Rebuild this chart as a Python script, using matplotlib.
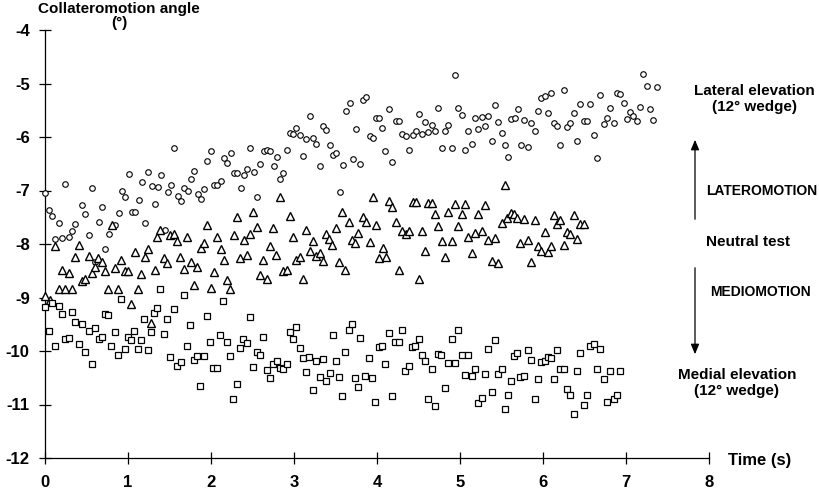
import matplotlib
matplotlib.use("Agg")
import matplotlib.pyplot as plt

plt.rcParams['font.family'] = ['Liberation Sans', 'DejaVu Sans']
plt.rcParams['font.weight'] = 'bold'

# Lateral elevation (circles)
lat_t = [0.00, 0.045, 0.08, 0.12, 0.17, 0.20, 0.245, 0.285, 0.325, 0.365, 0.446, 0.486, 0.526, 0.566,
         0.606, 0.646, 0.687, 0.727, 0.767, 0.847, 0.887, 0.928, 0.968, 1.008, 1.048, 1.088, 1.128,
         1.165, 1.205, 1.241, 1.285, 1.32, 1.36, 1.40, 1.44, 1.48, 1.52, 1.56, 1.60, 1.64, 1.68, 1.72,
         1.76, 1.80, 1.84, 1.876, 1.916, 1.955, 1.996, 2.036, 2.076, 2.117, 2.157, 2.196, 2.237, 2.277,
         2.317, 2.357, 2.394, 2.434, 2.474, 2.514, 2.554, 2.594, 2.635, 2.675, 2.714, 2.755, 2.795,
         2.83, 2.87, 2.91, 2.95, 2.99, 3.03, 3.07, 3.11, 3.15, 3.19, 3.23, 3.27, 3.31, 3.35, 3.39,
         3.43, 3.47, 3.51, 3.55, 3.59, 3.63, 3.67, 3.71, 3.75, 3.79, 3.83, 3.87, 3.91, 3.95, 3.99,
         4.03, 4.06, 4.10, 4.14, 4.18, 4.23, 4.27, 4.30, 4.35, 4.39, 4.43, 4.47, 4.51, 4.54, 4.58,
         4.62, 4.66, 4.70, 4.74, 4.78, 4.82, 4.86, 4.90, 4.94, 4.98, 5.02, 5.06, 5.10, 5.14, 5.18,
         5.22, 5.26, 5.30, 5.34, 5.38, 5.42, 5.46, 5.50, 5.54, 5.58, 5.62, 5.66, 5.70, 5.73, 5.77,
         5.82, 5.86, 5.90, 5.94, 5.98, 6.02, 6.06, 6.10, 6.13, 6.17, 6.21, 6.25, 6.29, 6.33, 6.37,
         6.41, 6.45, 6.49, 6.53, 6.57, 6.61, 6.65, 6.69, 6.73, 6.77, 6.81, 6.85, 6.89, 6.93, 6.97,
         7.01, 7.05, 7.09, 7.13, 7.17, 7.20, 7.25, 7.29, 7.32, 7.37]
lat_v = [-7.04, -7.36, -7.48, -7.91, -7.60, -7.88, -6.88, -7.86, -7.76, -7.63, -7.28, -7.43, -7.83, -6.95,
         -8.34, -7.59, -7.31, -8.09, -7.81, -7.64, -7.42, -7.00, -7.12, -6.69, -7.40, -7.40, -7.18,
         -6.85, -7.60, -6.66, -6.91, -7.26, -6.94, -6.71, -7.74, -7.03, -6.90, -6.20, -7.11, -7.20, -6.96, -7.00,
         -6.78, -6.63, -7.07, -7.16, -6.98, -6.44, -6.26, -6.90, -6.89, -6.82, -6.39, -6.49, -6.30, -6.68,
         -6.68, -6.95, -6.71, -6.59, -6.21, -6.66, -7.12, -6.50, -6.26, -6.24, -6.26, -6.55, -6.38,
         -6.78, -6.67, -6.24, -5.93, -5.95, -5.83, -5.97, -6.36, -6.04, -5.60, -6.01, -6.13, -6.55, -5.80, -5.86,
         -6.15, -6.33, -6.30, -7.02, -6.52, -5.51, -5.36, -6.41, -5.85, -6.51, -5.31, -5.25, -5.98, -6.01, -5.65,
         -5.64, -5.83, -6.26, -5.47, -6.46, -5.71, -5.70, -5.95, -5.98, -6.25, -5.97, -5.89, -5.57, -5.95, -5.72,
         -5.90, -5.78, -5.88, -5.45, -6.20, -5.89, -5.77, -6.20, -4.85, -5.46, -5.59, -6.24, -5.88, -6.13, -5.64,
         -5.85, -5.63, -5.80, -5.61, -6.07, -5.41, -5.72, -5.93, -6.15, -6.38, -5.67, -5.64, -5.47, -6.15, -5.69,
         -6.19, -5.74, -5.89, -5.51, -5.28, -5.24, -5.55, -5.18, -5.73, -5.79, -6.15, -5.13, -5.81, -5.74, -5.55,
         -6.08, -5.39, -5.71, -5.70, -5.39, -5.97, -6.39, -5.21, -5.75, -5.65, -5.46, -5.74, -5.17, -5.19, -5.36,
         -5.67, -5.53, -5.61, -5.70, -5.44, -4.83, -5.04, -5.48, -5.68, -5.07]

# Neutral test (triangles)
neu_t = [0.00, 0.06, 0.12, 0.165, 0.205, 0.245, 0.285, 0.32, 0.365, 0.405, 0.446, 0.486, 0.526, 0.562,
         0.60, 0.642, 0.683, 0.723, 0.763, 0.81, 0.84, 0.88, 0.92, 0.96, 1.00, 1.04, 1.08, 1.12, 1.16,
         1.20, 1.24, 1.28, 1.32, 1.35, 1.39, 1.43, 1.47, 1.51, 1.55, 1.59, 1.63, 1.67, 1.71, 1.755,
         1.795, 1.835, 1.876, 1.916, 1.955, 1.996, 2.036, 2.076, 2.117, 2.153, 2.193, 2.233, 2.273,
         2.313, 2.353, 2.394, 2.434, 2.474, 2.51, 2.55, 2.59, 2.63, 2.67, 2.71, 2.747, 2.787, 2.83,
         2.87, 2.91, 2.95, 2.99, 3.03, 3.07, 3.11, 3.15, 3.19, 3.23, 3.27, 3.31, 3.35, 3.38, 3.42,
         3.46, 3.50, 3.54, 3.58, 3.62, 3.66, 3.70, 3.74, 3.77, 3.83, 3.87, 3.91, 3.95, 3.99, 4.03,
         4.07, 4.11, 4.14, 4.18, 4.23, 4.27, 4.30, 4.35, 4.39, 4.43, 4.47, 4.50, 4.54, 4.58, 4.62,
         4.66, 4.70, 4.74, 4.78, 4.82, 4.86, 4.90, 4.94, 4.98, 5.02, 5.06, 5.10, 5.14, 5.18, 5.22,
         5.26, 5.30, 5.34, 5.38, 5.42, 5.46, 5.50, 5.54, 5.57, 5.61, 5.65, 5.69, 5.72, 5.77, 5.82,
         5.86, 5.90, 5.94, 5.98, 6.02, 6.06, 6.10, 6.13, 6.17, 6.21, 6.25, 6.29, 6.33, 6.37, 6.41,
         6.45, 6.49]
neu_v = [-8.98, -9.04, -8.04, -8.84, -8.49, -8.84, -8.55, -8.84, -8.24, -8.02, -8.70, -8.66, -8.23, -8.54,
         -8.43, -8.26, -8.34, -8.51, -8.84, -7.65, -8.45, -8.84, -8.29, -8.51, -8.50, -9.12, -8.15, -8.84, -8.56,
         -8.24, -8.09, -9.47, -8.48, -7.86, -7.73, -8.27, -8.35, -7.84, -7.82, -7.94, -8.25, -8.46, -7.87, -8.33,
         -8.76, -8.43, -8.08, -7.99, -7.64, -8.82, -8.53, -7.86, -8.10, -8.29, -8.67, -8.85, -7.84,
         -7.49, -8.27, -7.92, -8.20, -7.81, -7.40, -7.69, -8.58, -8.29, -8.65, -8.03, -7.71, -8.20, -7.12,
         -8.50, -8.48, -7.48, -7.87, -8.29, -8.24, -8.65, -7.74, -8.14, -7.94, -8.22, -8.16, -8.32, -7.82, -7.91,
         -8.02, -7.71, -8.33, -7.41, -8.49, -7.58, -7.92, -7.98, -7.79, -7.50, -7.59, -7.97, -7.12, -7.65, -8.27,
         -8.07, -8.24, -7.19, -7.31, -7.58, -8.49, -7.76, -7.81, -7.76, -7.21, -7.21, -8.65, -7.76, -8.14, -7.24,
         -7.24, -7.44, -7.66, -7.94, -8.25, -7.41, -7.94, -7.25, -7.66, -7.44, -7.25, -7.86, -8.17, -7.79, -7.44,
         -7.76, -7.28, -7.92, -8.32, -7.89, -8.35, -7.61, -6.89, -7.51, -7.42, -7.44, -7.51, -7.99, -7.54, -7.92,
         -8.33, -7.56, -8.03, -8.14, -7.77, -8.15, -8.03, -7.45, -7.63, -7.55, -8.02, -7.78, -7.81, -7.45, -7.91,
         -7.63, -7.63]

# Medial elevation (squares)
med_t = [0.00, 0.045, 0.08, 0.12, 0.165, 0.20, 0.245, 0.285, 0.325, 0.365, 0.405, 0.446, 0.486, 0.526,
         0.566, 0.606, 0.646, 0.683, 0.72, 0.76, 0.80, 0.84, 0.88, 0.92, 0.96, 0.996, 1.036, 1.076,
         1.117, 1.157, 1.197, 1.237, 1.277, 1.317, 1.353, 1.39, 1.43, 1.47, 1.51, 1.55, 1.59, 1.635,
         1.67, 1.71, 1.75, 1.79, 1.83, 1.87, 1.91, 1.95, 1.99, 2.03, 2.07, 2.11, 2.15, 2.19, 2.23,
         2.27, 2.31, 2.35, 2.39, 2.43, 2.47, 2.51, 2.55, 2.59, 2.63, 2.67, 2.71, 2.75, 2.79, 2.83,
         2.87, 2.91, 2.95, 2.99, 3.03, 3.07, 3.11, 3.15, 3.18, 3.23, 3.27, 3.31, 3.35, 3.39, 3.43,
         3.47, 3.50, 3.54, 3.58, 3.62, 3.66, 3.70, 3.74, 3.77, 3.80, 3.86, 3.90, 3.94, 3.98, 4.02,
         4.06, 4.10, 4.14, 4.18, 4.22, 4.26, 4.30, 4.34, 4.38, 4.42, 4.46, 4.50, 4.54, 4.58, 4.62,
         4.66, 4.70, 4.74, 4.77, 4.82, 4.86, 4.90, 4.94, 4.98, 5.02, 5.06, 5.10, 5.14, 5.18, 5.22,
         5.26, 5.30, 5.34, 5.38, 5.42, 5.46, 5.50, 5.54, 5.58, 5.62, 5.65, 5.69, 5.72, 5.77, 5.82,
         5.86, 5.90, 5.94, 5.98, 6.02, 6.06, 6.10, 6.13, 6.17, 6.21, 6.25, 6.29, 6.33, 6.37, 6.41,
         6.45, 6.49, 6.53, 6.57, 6.61, 6.65, 6.69, 6.73, 6.77, 6.81, 6.85, 6.89, 6.93]
med_v = [-9.17, -9.63, -9.10, -9.91, -9.15, -9.30, -9.78, -9.75, -9.27, -9.46, -9.86, -9.49, -10.02, -9.62,
         -10.24, -9.57, -9.78, -9.73, -9.30, -9.32, -9.90, -9.65, -10.08, -9.02, -9.97, -9.73, -9.80, -9.62,
         -9.96, -9.79, -9.41, -9.99, -9.64, -9.29, -9.19, -8.84, -9.69, -9.40, -10.12, -9.21, -10.28, -10.20,
         -8.96, -9.91, -9.52, -10.17, -10.09, -10.66, -10.09, -9.34, -9.83, -10.32, -10.31, -9.71, -9.06, -9.84, -10.09,
         -10.90, -10.61, -9.94, -9.77, -9.85, -9.37, -10.29, -10.01, -10.08, -9.73, -10.35, -10.51, -10.24, -10.18, -10.32,
         -10.34, -10.24, -9.65, -9.78, -9.56, -9.95, -10.14, -10.39, -10.11, -10.72, -10.18, -10.48, -10.15, -10.56, -10.42,
         -9.70, -10.19, -10.49, -10.85, -10.01, -9.60, -9.50, -10.51, -10.67, -9.75, -10.46, -10.13, -10.50, -10.96, -9.92,
         -9.91, -10.24, -9.67, -10.84, -9.84, -9.83, -9.60, -10.37, -10.28, -9.93, -9.90, -9.78, -10.07, -10.19, -10.90,
         -10.34, -11.03, -10.05, -10.07, -10.69, -10.22, -9.77, -10.23, -9.61, -10.08, -10.44, -10.07, -10.47, -10.33, -10.97,
         -10.87, -10.43, -9.96, -10.77, -9.79, -10.43, -10.33, -11.09, -10.83, -10.57, -10.09, -10.04, -10.48, -10.47, -9.98,
         -10.16, -10.89, -10.53, -10.20, -10.19, -10.11, -10.13, -10.53, -9.99, -10.33, -10.34, -10.71, -10.83, -11.17, -10.37,
         -10.04, -11.01, -10.83, -9.90, -9.86, -10.33, -9.97, -10.52, -10.95, -10.37, -10.89, -10.82, -10.37]

x_ticks = [0, 1, 2, 3, 4, 5, 6, 7, 8]
y_ticks = [-12, -11, -10, -9, -8, -7, -6, -5, -4]

W, H = 819, 493
fig = plt.figure(figsize=(W / 100, H / 100), dpi=100)
ax = fig.add_axes([45 / W, 1 - 458 / H, (709 - 45) / W, (458 - 30) / H])

common = dict(linestyle='none', markerfacecolor='white', markeredgecolor='black', clip_on=False, zorder=3)
ax.plot(lat_t, lat_v, marker='o', markersize=4.0, markeredgewidth=0.8, **common)
ax.plot(neu_t, neu_v, marker='^', markersize=5.5, markeredgewidth=1.0, **common)
ax.plot(med_t, med_v, marker='s', markersize=4.6, markeredgewidth=0.9, **common)

ax.set_xlim(0, 8)
ax.set_ylim(-12, -4)
ax.set_xticks(x_ticks)
ax.set_yticks(y_ticks)
ax.set_xticklabels([str(v) for v in x_ticks], fontsize=12, fontweight='bold')
ax.set_yticklabels([str(v) for v in y_ticks], fontsize=12, fontweight='bold')
ax.tick_params(axis='both', direction='inout', length=8, width=0.9, color='black')
ax.tick_params(axis='y', pad=7)
ax.tick_params(axis='x', pad=8)
for s in ['top', 'right']:
    ax.spines[s].set_visible(False)
for s in ['left', 'bottom']:
    ax.spines[s].set_linewidth(0.9)

def fx(px):
    return px / W

def fy(py):
    return 1 - py / H

fig.text(fx(119), fy(16), "Collateromotion angle\n(°)", ha='center', va='center',
         fontsize=11, fontweight='bold', linespacing=1.05)
fig.text(fx(728), fy(461), "Time (s)", ha='left', va='center', fontsize=12, fontweight='bold')
fig.text(fx(754), fy(99), "Lateral elevation\n(12° wedge)", ha='center', va='center',
         fontsize=11, fontweight='bold', linespacing=1.2)
fig.text(fx(706), fy(191), "LATEROMOTION", ha='left', va='center', fontsize=10, fontweight='bold')
fig.text(fx(706), fy(242), "Neutral test", ha='left', va='center', fontsize=11, fontweight='bold')
fig.text(fx(710), fy(292), "MEDIOMOTION", ha='left', va='center', fontsize=10, fontweight='bold')
fig.text(fx(737), fy(383), "Medial elevation\n(12° wedge)", ha='center', va='center',
         fontsize=11, fontweight='bold', linespacing=1.2)

fig.add_artist(matplotlib.patches.FancyArrowPatch((fx(695), fy(222)), (fx(695), fy(137)),
               transform=fig.transFigure, arrowstyle='-|>,head_length=6,head_width=2.5',
               color='black', linewidth=0.9, mutation_scale=1))
fig.add_artist(matplotlib.patches.FancyArrowPatch((fx(695), fy(265)), (fx(695), fy(357)),
               transform=fig.transFigure, arrowstyle='-|>,head_length=6,head_width=2.5',
               color='black', linewidth=0.9, mutation_scale=1))

fig.savefig("out.png", dpi=100)
